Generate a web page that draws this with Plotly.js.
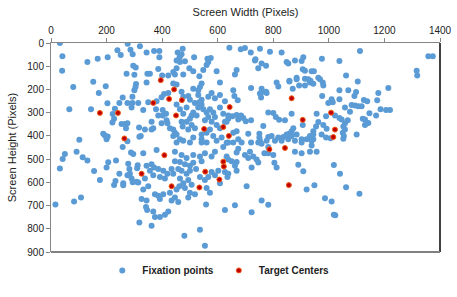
<!DOCTYPE html>
<html>
<head>
<meta charset="utf-8">
<script src="https://cdn.plot.ly/plotly-3.0.1.min.js"></script>
<style>html,body{margin:0;padding:0;background:#fff}#chart{width:457px;height:297px}</style>
</head>
<body>
<div id="chart"></div>
<script>
// Fixation points (screen x, screen y in pixels)
const fixX = [
32,41,168,204,239,251,276,286,294,320,344,371,390,390,456,470,474,463,515,563,575,642,683,698,719,752,788,830,908,975,1112,1358,1374,736,
40,80,66,102,131,152,172,197,203,144,222,227,221,230,246,272,296,305,300,306,304,300,258,275,293,293,314,290,254,266,275,270,188,194,204,200,317,386,347,356,452,452,446,400,422,
464,482,498,512,440,476,534,548,560,566,734,758,774,746,848,854,878,858,884,758,752,774,596,668,662,
344,440,452,407,422,398,380,350,332,378,402,414,402,386,362,368,338,362,323,428,440,446,452,440,464,476,500,542,542,494,518,506,488,500,506,512,530,542,542,530,530,536,542,512,470,476,494,500,518,534,566,578,590,608,608,572,584,608,620,590,566,554,578,596,608,572,560,584,596,614,632,638,524,548,560,464,476,488,452,416,419,398,470,474,512,542,
812,858,884,893,914,932,944,720,756,776,756,818,870,656,660,672,626,653,668,684,692,674,701,720,638,626,668,656,710,750,750,674,686,782,800,809,821,842,866,764,872,866,858,848,836,818,794,782,776,806,830,854,866,878,902,920,932,938,944,906,926,720,746,
332,380,446,470,488,512,536,554,578,590,632,446,464,482,500,512,542,522,500,488,470,458,434,440,419,404,386,371,362,344,356,338,368,392,410,464,476,494,506,482,462,452,428,404,386,392,374,350,332,326,344,446,434,458,500,494,518,560,572,578,590,602,626,608,635,638,536,554,566,560,620,452,
632,656,674,668,638,650,668,662,668,638,698,710,716,728,740,746,722,752,758,782,800,804,812,768,782,878,902,908,932,938,704,920,948,758,782,662,
1316,1318,902,1038,906,914,938,946,914,934,962,968,980,978,1062,1104,1070,1098,1038,976,1010,1014,998,1038,1092,1126,1138,1058,1082,1094,1106,1118,1076,1178,1214,1174,1186,1206,1220,1146,1170,1122,1130,1136,1142,1130,1068,1058,1052,1058,1050,1022,1038,1046,990,956,962,954,944,980,992,990,884,1100,1054,944,902,
974,1006,1052,956,890,1018,1040,986,1010,1018,1023,1062,1110,
318,258,275,288,296,92,114,131,50,42,32,155,176,200,206,234,246,232,227,260,260,278,282,290,294,312,310,275,284,308,314,16,83,108,318,362,392,374,346,368,342,410,422,
536,480,554,626,722,558
];
const fixY = [
0,57,68,61,31,52,3,29,48,14,41,34,34,61,41,48,25,61,61,68,65,20,27,22,41,25,38,41,61,68,34,57,57,70,
120,190,285,417,82,167,215,186,259,285,306,326,342,283,258,132,98,106,137,177,190,204,235,258,258,231,258,278,349,349,346,367,391,398,403,414,364,112,132,132,75,109,136,140,140,
82,79,109,122,125,136,143,116,95,82,75,88,98,109,82,88,75,163,150,197,217,210,122,116,136,
170,174,179,220,215,234,251,255,289,285,289,305,312,312,339,367,373,373,400,367,373,387,394,400,414,421,428,394,414,373,367,353,339,326,312,299,278,265,244,224,204,190,174,197,210,231,228,244,258,255,231,215,238,224,170,285,299,278,305,319,319,333,339,353,367,373,387,400,421,407,339,312,312,285,299,285,305,278,265,333,346,346,339,360,407,428,
170,166,156,183,183,170,176,194,215,215,235,187,197,204,228,247,251,315,310,312,323,329,337,333,326,339,380,387,391,391,407,414,428,299,301,319,330,333,305,357,367,380,391,394,405,407,400,405,421,421,421,414,400,421,414,414,400,421,394,353,156,428,428,
475,461,468,482,495,482,489,475,489,468,489,509,512,522,529,516,509,543,550,563,550,543,543,563,563,550,543,536,522,529,550,584,570,577,584,584,604,590,610,624,617,631,645,651,658,672,651,617,631,672,678,665,678,685,645,665,651,624,645,556,570,550,556,604,577,428,577,590,577,428,448,428,
430,428,455,471,502,509,512,529,550,563,482,495,468,489,502,515,536,421,434,448,482,516,536,475,475,468,475,552,468,441,617,631,613,678,696,699,
120,140,78,78,113,120,122,122,154,163,150,156,183,170,140,166,204,211,204,228,242,255,258,242,228,245,251,278,267,269,272,272,296,215,194,247,285,289,289,302,312,326,329,346,344,353,333,346,360,373,387,312,323,329,315,305,340,360,380,353,369,407,394,394,400,414,428,
394,410,412,468,524,525,563,669,683,740,742,621,649,
404,448,423,471,478,468,492,506,478,499,540,551,590,536,513,506,563,594,611,604,613,520,543,584,600,526,539,570,563,597,601,695,683,665,773,787,749,749,719,726,706,740,726,
804,830,873,719,729,695
];
// Target centers
const tgtX = [176,241,264,395,443,425,471,368,450,551,620,640,643,866,1008,906,1022,1016,408,326,434,786,842,620,622,555,606,534,856];
const tgtY = [301,301,411,160,200,241,246,258,312,370,362,400,276,238,300,331,373,405,483,563,617,458,452,511,532,554,588,622,612];

const xTicks = [0,200,400,600,800,1000,1200,1400];
const yTicks = [0,100,200,300,400,500,600,700,800,900];

const font = 'Liberation Sans, Arial, sans-serif';
const traces = [
  {type:'scatter', mode:'markers', name:'<b>Fixation points</b>', x:fixX, y:fixY,
   marker:{size:6, color:'#5B9BD5'}},
  {type:'scatter', mode:'markers', name:'<b>Target Centers</b>', x:tgtX, y:tgtY,
   marker:{size:5, color:'#C00000', line:{width:1, color:'#F05A14'}}}
];
const layout = {
  width:457, height:297,
  margin:{l:51, r:17, t:43, b:33},
  paper_bgcolor:'#fff', plot_bgcolor:'#fff',
  font:{family:font, size:10, color:'#222'},
  showlegend:true,
  legend:{orientation:'h', x:0.43, xanchor:'center', y:-0.088, yanchor:'middle',
          font:{family:font, size:10, color:'#222'}, itemwidth:30, tracegroupgap:0,
          bgcolor:'rgba(0,0,0,0)'},
  xaxis:{side:'top', range:[0,1400], tickvals:xTicks, ticktext:xTicks.map(String),
         showgrid:false, zeroline:false, showline:true, linecolor:'#868686', linewidth:1,
         ticks:'outside', ticklen:4, tickcolor:'#868686',
         tickfont:{family:font, size:10, color:'#222'},
         title:{text:'Screen Width (Pixels)', font:{family:font, size:11, color:'#222'}, standoff:6}},
  yaxis:{range:[900,0], tickvals:yTicks, ticktext:yTicks.map(String),
         showgrid:false, zeroline:false, showline:true, linecolor:'#868686', linewidth:1,
         ticks:'outside', ticklen:4, tickcolor:'#868686',
         tickfont:{family:font, size:10, color:'#222'},
         title:{text:'Screen Height (Pixels)', font:{family:font, size:11, color:'#222'}, standoff:8}},
  shapes:[
    {type:'line', xref:'paper', yref:'paper', x0:1, x1:1, y0:0, y1:1, line:{color:'#000', width:1.5}},
    {type:'line', xref:'paper', yref:'paper', x0:0, x1:1, y0:0, y1:0, line:{color:'#808080', width:2}}
  ]
};
Plotly.newPlot('chart', traces, layout, {displayModeBar:false, staticPlot:true});
</script>
</body>
</html>
